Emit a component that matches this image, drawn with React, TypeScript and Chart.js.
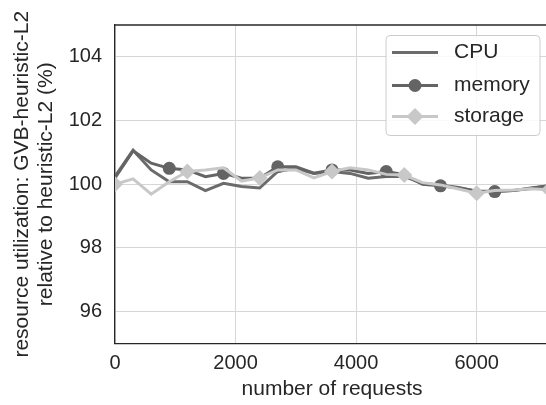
import React, { useEffect, useRef } from "react";
import { Chart, registerables } from "chart.js";

Chart.register(...registerables);

const requests = [0, 300, 600, 900, 1200, 1500, 1800, 2100, 2400, 2700, 3000, 3300, 3600, 3900, 4200, 4500, 4800, 5100, 5400, 5700, 6000, 6300, 6600, 6900, 7200];
const cpu = [100.25, 101.07, 100.45, 100.08, 100.08, 99.8, 100.03, 99.93, 99.88, 100.4, 100.5, 100.34, 100.4, 100.34, 100.19, 100.24, 100.25, 100.02, 99.98, 99.9, 99.78, 99.78, 99.8, 99.87, 99.95];
const memory = [100.2, 101.05, 100.66, 100.5, 100.45, 100.24, 100.34, 100.19, 100.19, 100.55, 100.55, 100.35, 100.45, 100.45, 100.34, 100.4, 100.3, 100.0, 99.95, 99.88, 99.78, 99.77, 99.8, 99.88, 99.95];
const storage = [100.0, 100.17, 99.69, 100.08, 100.4, 100.45, 100.52, 100.1, 100.2, 100.45, 100.45, 100.2, 100.4, 100.52, 100.45, 100.31, 100.29, 100.05, 99.98, 99.85, 99.72, 99.8, 99.82, 99.86, 99.83];
const xTicks = [0, 2000, 4000, 6000];
const yTicks = [96, 98, 100, 102, 104];
const seriesNames = ["CPU", "memory", "storage"];
const yTitle = ["resource utilization: GVB-heuristic-L2", "relative to heuristic-L2 (%)"];
const xTitle = "number of requests";

const FONT = "'Liberation Sans', Arial, sans-serif";
const TEXT = "#262626";
const C_CPU = "#6b6b6b";
const C_MEM = "#646464";
const C_STO = "#c8c8c8";

const legendPlugin = {
  id: "customLegend",
  afterDraw(chart: any) {
    const { ctx, chartArea } = chart;
    const x1 = 386, x2 = 540;
    const y1 = chartArea.top + 10.5, y2 = chartArea.top + 110.5;
    ctx.save();
    // top spine
    ctx.strokeStyle = TEXT;
    ctx.lineWidth = 1.3;
    ctx.beginPath();
    ctx.moveTo(chartArea.left, chartArea.top);
    ctx.lineTo(chartArea.right + 5, chartArea.top);
    ctx.stroke();
    // box
    const r = 4;
    ctx.beginPath();
    ctx.moveTo(x1 + r, y1);
    ctx.lineTo(x2 - r, y1);
    ctx.quadraticCurveTo(x2, y1, x2, y1 + r);
    ctx.lineTo(x2, y2 - r);
    ctx.quadraticCurveTo(x2, y2, x2 - r, y2);
    ctx.lineTo(x1 + r, y2);
    ctx.quadraticCurveTo(x1, y2, x1, y2 - r);
    ctx.lineTo(x1, y1 + r);
    ctx.quadraticCurveTo(x1, y1, x1 + r, y1);
    ctx.closePath();
    ctx.fillStyle = "rgba(255,255,255,0.85)";
    ctx.fill();
    ctx.strokeStyle = "#cccccc";
    ctx.lineWidth = 1;
    ctx.stroke();
    const colors = [C_CPU, C_MEM, C_STO];
    const ys = [chartArea.top + 27.5, chartArea.top + 60.5, chartArea.top + 91.5];
    for (let i = 0; i < 3; i++) {
      const y = ys[i];
      ctx.strokeStyle = colors[i];
      ctx.lineWidth = 3;
      ctx.beginPath();
      ctx.moveTo(392, y);
      ctx.lineTo(438, y);
      ctx.stroke();
      ctx.fillStyle = colors[i];
      if (i === 1) {
        ctx.beginPath();
        ctx.arc(415, y, 6.5, 0, Math.PI * 2);
        ctx.fill();
      } else if (i === 2) {
        const d = 8.5;
        ctx.beginPath();
        ctx.moveTo(415, y - d);
        ctx.lineTo(415 + d, y);
        ctx.lineTo(415, y + d);
        ctx.lineTo(415 - d, y);
        ctx.closePath();
        ctx.fill();
      }
      ctx.fillStyle = TEXT;
      ctx.font = `21px ${FONT}`;
      ctx.textBaseline = "middle";
      ctx.textAlign = "left";
      ctx.fillText(seriesNames[i], 454, y);
    }
    ctx.restore();
  },
};

export default function App() {
  const ref = useRef<HTMLCanvasElement | null>(null);
  useEffect(() => {
    document.body.style.margin = "0";
    const canvas = ref.current!;
    const memRadius = requests.map((_, i) => (i > 0 && i < 24 && i % 3 === 0 ? 6.5 : 0));
    const stoRadius = requests.map((_, i) => (i % 4 === 0 ? 8 : 0));
    const chart = new Chart(canvas, {
      type: "line",
      data: {
        datasets: [
          {
            label: seriesNames[0],
            data: requests.map((x, i) => ({ x, y: cpu[i] })),
            borderColor: C_CPU,
            backgroundColor: C_CPU,
            borderWidth: 3,
            pointRadius: 0,
            tension: 0,
            order: 2,
          },
          {
            label: seriesNames[1],
            data: requests.map((x, i) => ({ x, y: memory[i] })),
            borderColor: C_MEM,
            backgroundColor: C_MEM,
            borderWidth: 3,
            pointRadius: memRadius,
            pointStyle: "circle",
            pointBorderWidth: 0,
            tension: 0,
            order: 1,
          },
          {
            label: seriesNames[2],
            data: requests.map((x, i) => ({ x, y: storage[i] })),
            borderColor: C_STO,
            backgroundColor: C_STO,
            borderWidth: 3,
            pointRadius: stoRadius,
            pointStyle: "rectRot",
            pointBorderWidth: 0,
            tension: 0,
            order: 0,
          },
        ],
      },
      options: {
        responsive: false,
        animation: false,
        devicePixelRatio: 1,
        layout: { padding: { top: 22.5, right: 11, left: 0, bottom: 0 } },
        plugins: { legend: { display: false }, tooltip: { enabled: false } },
        scales: {
          x: {
            type: "linear",
            min: 0,
            max: 7200,
            afterBuildTicks: (s: any) => {
              s.ticks = xTicks.map((v) => ({ value: v }));
            },
            afterFit: (s: any) => {
              s.height = 61.5;
            },
            grid: { color: "#d6d6d6", lineWidth: 1, drawTicks: false },
            border: { color: TEXT, width: 1.3 },
            ticks: {
              color: TEXT,
              font: { family: FONT, size: 20 },
              padding: 8,
              maxRotation: 0,
              callback: (v: any) => String(v),
            },
            title: {
              display: true,
              text: xTitle,
              color: TEXT,
              font: { family: FONT, size: 21 },
              padding: { top: 0, bottom: 3 },
            },
          },
          y: {
            type: "linear",
            min: 95,
            max: 105,
            afterBuildTicks: (s: any) => {
              s.ticks = yTicks.map((v) => ({ value: v }));
            },
            afterFit: (s: any) => {
              s.width = 115;
            },
            grid: { color: "#d6d6d6", lineWidth: 1, drawTicks: false },
            border: { color: TEXT, width: 1.3 },
            ticks: {
              color: TEXT,
              font: { family: FONT, size: 20 },
              padding: 13,
              callback: (v: any) => String(v),
            },
            title: {
              display: true,
              text: yTitle,
              color: TEXT,
              font: { family: FONT, size: 21, lineHeight: 1.15 },
              padding: { top: 10, bottom: 0 },
            },
          },
        },
      },
      plugins: [legendPlugin],
    });
    return () => chart.destroy();
  }, []);
  return (
    <div style={{ position: "fixed", left: 0, top: 0, width: 546, height: 405, overflow: "hidden", background: "#fff" }}>
      <canvas ref={ref} width={560} height={405} style={{ width: 560, height: 405, display: "block" }} />
    </div>
  );
}
